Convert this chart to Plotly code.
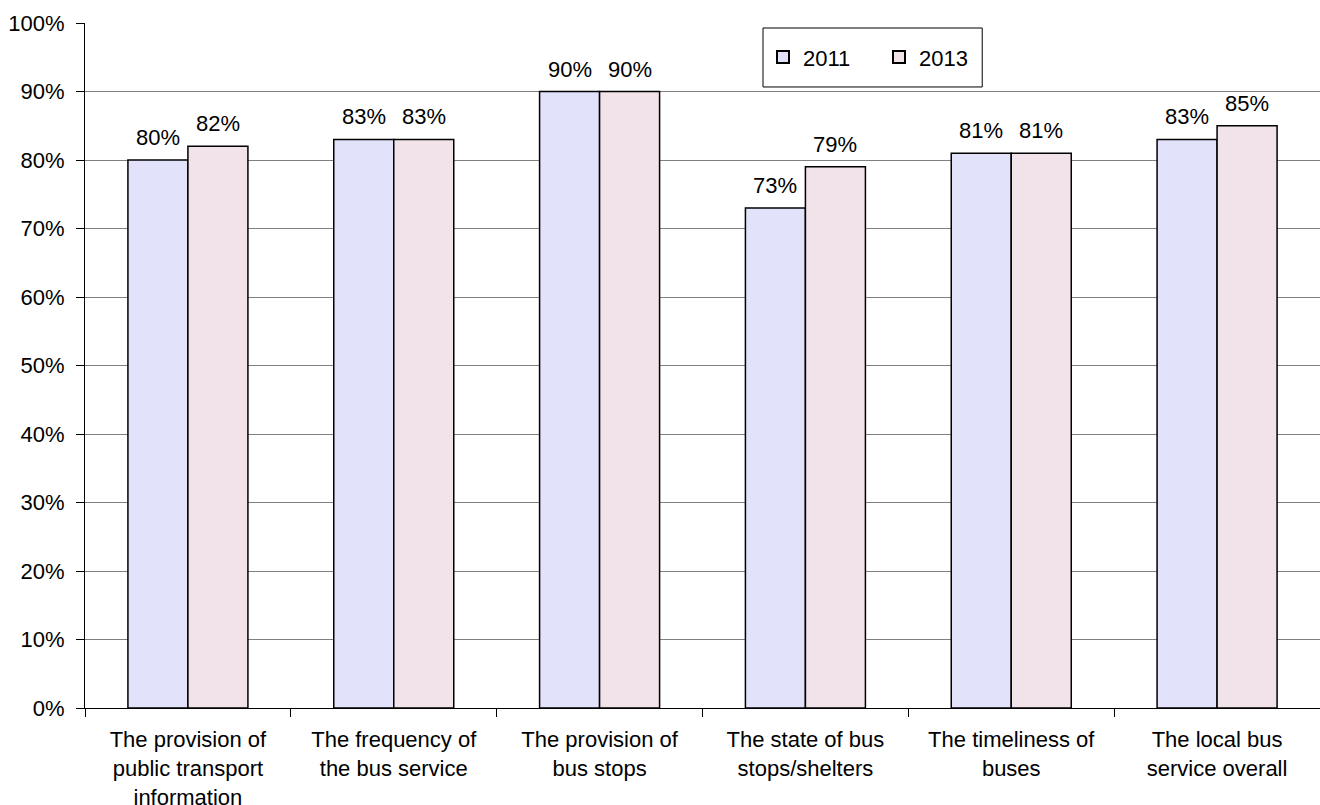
import plotly.graph_objects as go

categories = [
    "The provision of<br>public transport<br>information",
    "The frequency of<br>the bus service",
    "The provision of<br>bus stops",
    "The state of bus<br>stops/shelters",
    "The timeliness of<br>buses",
    "The local bus<br>service overall",
]
values_2011 = [80, 83, 90, 73, 81, 83]
values_2013 = [82, 83, 90, 79, 81, 85]
series_names = ["2011", "2013"]
y_ticks = [0, 10, 20, 30, 40, 50, 60, 70, 80, 90, 100]

FONT = "Liberation Sans, Arial, sans-serif"
FS = 22
BAR_W = 0.2915  # fraction of category width for each bar

fig = go.Figure()
series = [(series_names[0], values_2011, "#E2E2FA", -1),
          (series_names[1], values_2013, "#F2E2EA", 1)]
for name, vals, col, side in series:
    fig.add_trace(go.Bar(
        name=name, x=categories, y=vals,
        marker=dict(color=col, line=dict(color="black", width=1.5)),
    ))

# value labels above each bar
for name, vals, col, side in series:
    for cat, v in zip(categories, vals):
        fig.add_annotation(
            x=cat, y=v, text=f"{v}%", showarrow=False,
            xref="x", yref="y", xanchor="center", yanchor="bottom",
            xshift=side * 30, yshift=8,
            font=dict(size=FS, family=FONT, color="black"),
        )

fig.update_layout(
    width=1320, height=805,
    margin=dict(l=85, r=0, t=23, b=97),
    paper_bgcolor="white", plot_bgcolor="white",
    barmode="group", bargap=0.417, bargroupgap=0,
    font=dict(family=FONT, size=FS, color="black"),
    showlegend=True,
    legend=dict(
        orientation="h", x=0.549, y=0.950, xanchor="left", yanchor="middle",
        borderwidth=0, bgcolor="rgba(0,0,0,0)",
        font=dict(size=FS, family=FONT), entrywidth=71,
        itemsizing="constant", itemwidth=30,
    ),
    shapes=[dict(
        type="rect", xref="paper", yref="paper",
        x0=0.549, x1=0.7265, y0=0.9066, y1=0.9927,
        line=dict(color="black", width=1), fillcolor="white", layer="above",
    )],
)
fig.update_xaxes(
    type="category", showline=True, linecolor="black", linewidth=1,
    ticks="outside", tickson="boundaries", ticklen=8, tickcolor="black",
    showgrid=False, tickfont=dict(size=FS, family=FONT, color="black"),
    automargin=False, ticklabelstandoff=12,
)
fig.update_yaxes(
    range=[0, 100], tickvals=y_ticks, ticktext=[f"{v}%" for v in y_ticks],
    showline=True, linecolor="black", linewidth=1,
    ticks="outside", ticklen=8, tickcolor="black",
    showgrid=True, gridcolor="#808080", gridwidth=1,
    zeroline=False, tickfont=dict(size=FS, family=FONT, color="black"),
    automargin=False, ticklabelstandoff=7,
)

fig.write_html(
    "out.html",
    config={"responsive": False, "displayModeBar": False},
    post_script="document.body.style.margin='0';document.body.style.padding='0';",
)
